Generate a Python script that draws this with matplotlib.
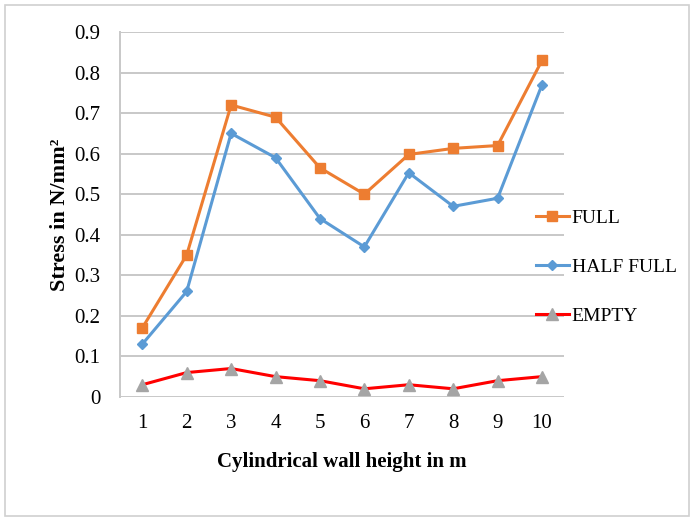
import numpy as np
import matplotlib.pyplot as plt
from matplotlib.patches import Rectangle

plt.rcParams['font.family'] = ['Liberation Serif', 'DejaVu Serif']

# data
heights = [1, 2, 3, 4, 5, 6, 7, 8, 9, 10]
full = [0.17, 0.35, 0.72, 0.69, 0.565, 0.50, 0.598, 0.613, 0.62, 0.83]
half_full = [0.13, 0.26, 0.65, 0.59, 0.44, 0.37, 0.553, 0.47, 0.49, 0.77]
empty = [0.03, 0.06, 0.07, 0.05, 0.04, 0.02, 0.03, 0.02, 0.04, 0.05]
yticks = np.arange(0, 0.91, 0.1)
ytick_labels = ['0', '0.1', '0.2', '0.3', '0.4', '0.5', '0.6', '0.7', '0.8', '0.9']

fig = plt.figure(figsize=(6.94, 5.25), dpi=100)
ax = fig.add_axes([0.173, 0.244, 0.64, 0.695])

# outer frame of the chart
fig.patches.append(Rectangle((0.007, 0.017), 0.986, 0.973, transform=fig.transFigure,
                             fill=False, edgecolor='#D0D0D0', linewidth=1.2))

ax.plot(heights, full, color='#ED7D31', lw=2.2, marker='s', ms=7, label='FULL')
ax.plot(heights, half_full, color='#5B9BD5', lw=2.2, marker='D', ms=5.5, label='HALF FULL')
ax.plot(heights, empty, color='#FF0000', lw=2.2, marker='^', ms=8,
        mfc='#A5A5A5', mec='#A5A5A5', label='EMPTY')

ax.set_xlim(0.5, 10.5)
ax.set_ylim(0, 0.9)
ax.set_yticks(yticks)
ax.set_yticklabels(ytick_labels)
ax.set_xticks(heights)
ax.grid(axis='y', color='#C8C8C8', lw=1.4)
ax.set_axisbelow(True)
for s in ['top', 'right', 'bottom']:
    ax.spines[s].set_visible(False)
ax.spines['left'].set_color('#C8C8C8')
ax.spines['left'].set_linewidth(1.4)
ax.tick_params(length=0, labelsize=15, pad=12)
ax.tick_params(axis='y', pad=14)

ax.set_xlabel('Cylindrical wall height in m', fontsize=15, fontweight='bold', labelpad=14)
ax.set_ylabel('Stress in N/mm²', fontsize=16, fontweight='bold', labelpad=3)

ax.legend(loc='upper left', bbox_to_anchor=(0.918, 0.535), frameon=False,
          fontsize=14, handlelength=1.7, handletextpad=0.15, labelspacing=1.6,
          borderaxespad=0)

fig.savefig('out.png', dpi=100)
